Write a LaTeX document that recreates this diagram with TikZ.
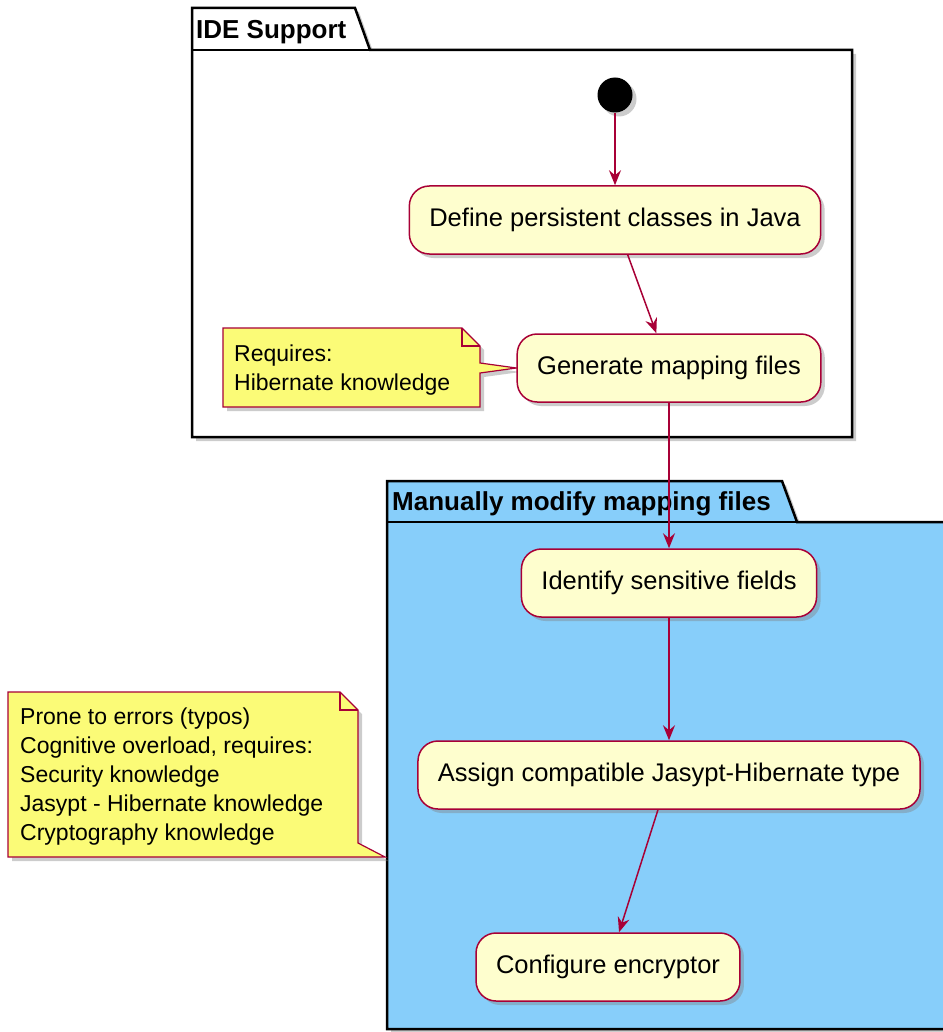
\documentclass[tikz,border=0pt]{standalone}
\usepackage{fontspec}
\setmainfont{Liberation Sans}
\usetikzlibrary{arrows.meta}
\usetikzlibrary{shadows}
\definecolor{umlred}{HTML}{A80036}
\definecolor{actfill}{HTML}{FEFECE}
\definecolor{notefill}{HTML}{FBFB77}
\definecolor{pkgblue}{HTML}{87CEFA}
\pgfdeclarelayer{pkglayer}
\pgfdeclarelayer{notelayer}
\pgfsetlayers{pkglayer,notelayer,main}

\begin{document}
\begin{tikzpicture}[x=1pt,y=-1pt,
  shade/.style={drop shadow={opacity=0.4,shadow xshift=4pt,shadow yshift=-4pt}},
  act/.style={draw=umlred,fill=actfill,line width=1.5pt,rounded corners=20pt,
    minimum height=68pt,inner xsep=20pt,font=\fontsize{25.5}{30}\selectfont,shade},
  flow/.style={draw=umlred,line width=1.5pt,-{Stealth[length=15pt,width=12pt,inset=5pt]}},
  notetext/.style={align=left,font=\fontsize{23}{29}\selectfont,inner xsep=12pt,anchor=west},
  notebox/.style={draw=umlred,fill=notefill,line width=1.2pt,line join=miter,shade},
  pkg/.style={draw=black,line width=2.5pt,line join=miter,shade},
  pkgtitle/.style={font=\bfseries\fontsize{26}{30}\selectfont,anchor=base west,inner sep=0pt}]
  \useasboundingbox (0,0) rectangle (942,1032);

  \begin{pgfonlayer}{pkglayer}
    \draw[pkg,fill=white] (192,50) -- (192,8) -- (355,8) -- (370,50) -- (852,50)
      -- (852,437) -- (192,437) -- cycle;
    \draw[line width=2.5pt] (192,50) -- (370,50);
    \draw[pkg,fill=pkgblue] (387,522) -- (387,481) -- (782,481) -- (797,522) -- (960,522)
      -- (960,1029) -- (387,1029) -- cycle;
    \draw[line width=2.5pt] (387,522) -- (797,522);
  \end{pgfonlayer}
  \node[pkgtitle] (ide) at (196,39) {IDE Support};
  \node[pkgtitle] (manual) at (392,510) {Manually modify mapping files};

  \node[circle,fill=black,minimum size=35pt,inner sep=0pt,shade] (start) at (615,95) {};
  \node[act] (define) at (615,220) {Define persistent classes in Java};
  \node[act] (generate) at (669,368) {Generate mapping files};
  \node[act] (identify) at (669,583) {Identify sensitive fields};
  \node[act] (assign) at (669,775) {Assign compatible Jasypt-Hibernate type};
  \node[act] (config) at (608,967) {Configure encryptor};

  \node[notetext] (hibnote) at (222,370) {Requires:\\Hibernate knowledge};
  \node[notetext] (errnote) at (8,777) {Prone to errors (typos)\\Cognitive overload, requires:\\
    Security knowledge\\Jasypt - Hibernate knowledge\\Cryptography knowledge};
  \coordinate (pkgedge) at (385,857);

  \begin{pgfonlayer}{notelayer}
    \draw[notebox] (223,328) -- (462,328) -- (480,346) -- (480,363) -- (generate.west)
      -- (480,373) -- (480,407) -- (223,407) -- cycle;
    \draw[umlred,line width=1.2pt] (462,328) -- (462,346) -- (480,346);
    \draw[notebox] (8,692) -- (340,692) -- (358,710) -- (358,843) -- (pkgedge)
      -- (8,857) -- cycle;
    \draw[umlred,line width=1.2pt] (340,692) -- (340,710) -- (358,710);
  \end{pgfonlayer}

  \draw[flow] (start) -- (define);
  \draw[flow] (define) -- (generate);
  \draw[flow] (generate) -- (identify);
  \draw[flow] (identify) -- (assign);
  \draw[flow] (assign) -- (config);
\end{tikzpicture}
\end{document}
